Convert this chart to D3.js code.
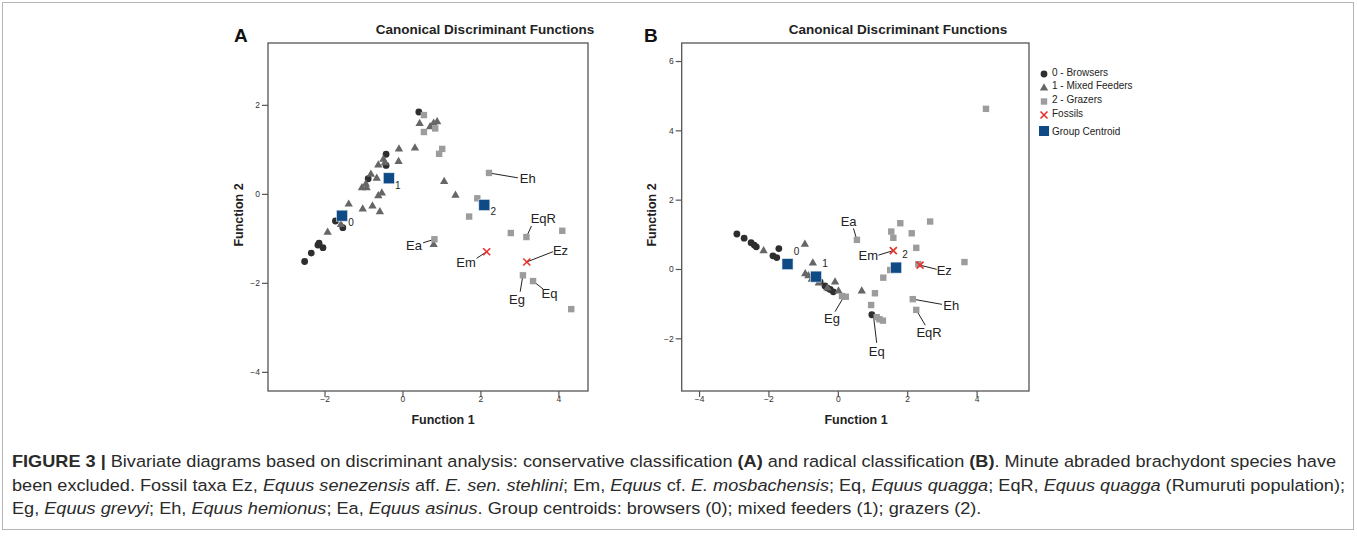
<!DOCTYPE html>
<html>
<head>
<meta charset="utf-8">
<script src="https://cdn.jsdelivr.net/npm/d3@7"></script>
<style>
  html, body { margin: 0; padding: 0; background: #fff; }
  svg { display: block; font-family: "Liberation Sans", Arial, sans-serif; }
</style>
</head>
<body>
<svg id="fig" width="1357" height="542"></svg>
<script>
// ---------------- DATA ----------------
const panelTitle = "Canonical Discriminant Functions";
const xAxisTitle = "Function 1";
const yAxisTitle = "Function 2";

// Panel A (conservative classification)
const aXTicks = [-2, 0, 2, 4];
const aYTicks = [-4, -2, 0, 2];
const aBrowsers = [[0.42,1.84],[-0.42,0.89],[-0.42,0.64],[-0.88,0.34],[-1.72,-0.61],[-1.53,-0.76],
  [-2.14,-1.11],[-2.17,-1.15],[-2.04,-1.21],[-2.34,-1.33],[-2.51,-1.52]];
const aMixed = [[0.44,1.60],[0.89,1.64],[0.71,1.53],[0.80,1.61],[-0.09,1.03],[0.32,1.05],[-0.49,0.80],
  [-0.62,0.67],[-0.10,0.75],[-0.45,0.72],[1.07,0.30],[-0.81,0.46],[-0.66,0.37],[-1.04,0.16],[-0.92,0.16],
  [-0.94,0.24],[-0.53,0.04],[-0.62,-0.02],[-1.38,-0.21],[-1.02,-0.32],[-0.77,-0.25],[-0.58,-0.38],
  [-1.58,-0.67],[-1.92,-0.84],[1.36,-0.01],[0.80,-1.12]];
const aGrazers = [[0.55,1.77],[0.84,1.47],[0.55,1.39],[1.02,1.01],[0.94,0.90],[2.22,0.47],[1.92,-0.10],
  [1.71,-0.51],[2.78,-0.88],[3.18,-0.97],[4.10,-0.83],[3.09,-1.83],[3.35,-1.96],[4.33,-2.59],[0.82,-1.02]];
const aFossils = [[2.16,-1.30],[3.19,-1.53]];
const aCentroids = [["0",-1.55,-0.49],["1",-0.35,0.35],["2",2.10,-0.25]];
// [text, point x, point y, label x, label y, anchor, line end x, line end y]
const aLabels = [
  ["Eh", 2.22, 0.47, 3.01, 0.25, "start", 2.96, 0.36],
  ["EqR", 3.18, -0.97, 3.29, -0.65, "start", 3.31, -0.72],
  ["Ea", 0.82, -1.02, 0.50, -1.26, "end", 0.53, -1.10],
  ["Em", 2.16, -1.30, 1.88, -1.64, "end", 1.90, -1.45],
  ["Ez", 3.19, -1.53, 3.86, -1.37, "start", 3.86, -1.30],
  ["Eg", 3.09, -1.83, 2.94, -2.47, "middle", 3.02, -2.20],
  ["Eq", 3.35, -1.96, 3.57, -2.34, "start", 3.61, -2.14]
];

// Panel B (radical classification)
const bXTicks = [-4, -2, 0, 2, 4];
const bYTicks = [-2, 0, 2, 4, 6];
const bBrowsers = [[-2.91,1.01],[-2.70,0.89],[-2.50,0.76],[-2.41,0.69],[-2.35,0.64],[-1.70,0.59],
  [-1.87,0.38],[-1.76,0.33],[-0.51,-0.37],[-0.37,-0.49],[-0.30,-0.55],[-0.22,-0.59],[-0.13,-0.66],[0.98,-1.32]];
const bMixed = [[-2.14,0.55],[-0.95,0.74],[-0.72,0.20],[-0.94,-0.11],[-0.85,-0.17],[-0.75,-0.27],
  [-0.55,-0.38],[-0.30,-0.52],[-0.08,-0.35],[0.02,-0.61],[0.69,-0.61]];
const bGrazers = [[0.55,0.84],[1.80,1.32],[2.66,1.37],[1.54,1.08],[1.60,0.90],[2.13,1.03],[2.26,0.61],
  [1.51,-0.03],[1.31,-0.25],[2.32,0.14],[3.65,0.20],[1.07,-0.70],[0.96,-1.04],[0.12,-0.78],[0.23,-0.80],
  [2.16,-0.87],[2.26,-1.18],[4.27,4.62],[1.12,-1.39],[1.20,-1.45],[1.30,-1.49]];
const bFossils = [[1.60,0.53],[2.37,0.11]];
const bCentroids = [["0",-1.45,0.14],["1",-0.63,-0.22],["2",1.68,0.04]];
const bLabels = [
  ["Ea", 0.55, 0.84, 0.31, 1.24, "middle", 0.45, 1.17],
  ["Em", 1.60, 0.53, 1.16, 0.26, "end", 1.17, 0.40],
  ["Ez", 2.37, 0.11, 2.85, -0.17, "start", 2.85, -0.01],
  ["Eh", 2.16, -0.87, 3.04, -1.18, "start", 3.00, -1.02],
  ["EqR", 2.26, -1.18, 2.63, -1.96, "middle", 2.52, -1.62],
  ["Eq", 1.03, -1.38, 1.12, -2.51, "middle", 1.12, -2.13],
  ["Eg", 0.18, -0.79, -0.17, -1.56, "middle", -0.08, -1.23]
];

const legendItems = ["0 - Browsers", "1 - Mixed Feeders", "2 - Grazers", "Fossils", "Group Centroid"];

// ---------------- STYLE ----------------
const C = { browser: "#2e2e2e", mixed: "#666666", grazer: "#9c9c9c", fossil: "#e8322d", centroid: "#0e4a86", axis: "#555", text: "#222" };

const svg = d3.select("#fig");

// outer frame
svg.append("rect").attr("x", 2.5).attr("y", 2.5).attr("width", 1351).attr("height", 527)
  .attr("fill", "none").attr("stroke", "#b5b5b5").attr("stroke-width", 1);

function symbolPath(type, size) { return d3.symbol().type(type).size(size)(); }

function drawPanel(cfg) {
  const x = d3.scaleLinear().domain(cfg.xDomain).range(cfg.xRange);
  const y = d3.scaleLinear().domain(cfg.yDomain).range(cfg.yRange);
  const g = svg.append("g");

  g.append("rect").attr("x", cfg.xRange[0]).attr("y", cfg.yRange[1])
    .attr("width", cfg.xRange[1] - cfg.xRange[0]).attr("height", cfg.yRange[0] - cfg.yRange[1])
    .attr("fill", "none").attr("stroke", C.axis).attr("stroke-width", 1.3);

  const xa = g.append("g").attr("transform", `translate(0,${cfg.yRange[0]})`)
    .call(d3.axisBottom(x).tickValues(cfg.xTicks).tickSize(6).tickPadding(-1).tickSizeOuter(0));
  const ya = g.append("g").attr("transform", `translate(${cfg.xRange[0]},0)`)
    .call(d3.axisLeft(y).tickValues(cfg.yTicks).tickSize(6).tickPadding(2).tickSizeOuter(0));
  [xa, ya].forEach(a => {
    a.select(".domain").remove();
    a.selectAll("line").attr("stroke", C.axis).attr("stroke-width", 1.2);
    a.selectAll("text").attr("font-size", 8.5).attr("fill", "#333").attr("font-family", "Liberation Sans, Arial, sans-serif");
  });

  g.append("text").attr("x", cfg.titleX).attr("y", 34).attr("text-anchor", "middle")
    .attr("font-size", 13.5).attr("font-weight", "bold").attr("fill", C.text).text(panelTitle);
  g.append("text").attr("x", cfg.letterX).attr("y", 42).attr("font-size", 19).attr("font-weight", "bold")
    .attr("fill", "#111").text(cfg.letter);
  g.append("text").attr("transform", `translate(${cfg.yTitleX},215) rotate(-90)`).attr("text-anchor", "middle")
    .attr("font-size", 12.5).attr("font-weight", "bold").attr("fill", C.text).text(yAxisTitle);
  g.append("text").attr("x", cfg.xTitleX).attr("y", 424).attr("text-anchor", "middle")
    .attr("font-size", 12.5).attr("font-weight", "bold").attr("fill", C.text).text(xAxisTitle);

  g.selectAll(".lead").data(cfg.labels).join("line")
    .attr("x1", d => x(d[1])).attr("y1", d => y(d[2]))
    .attr("x2", d => x(d[6])).attr("y2", d => y(d[7]))
    .attr("stroke", "#222").attr("stroke-width", 1);

  g.selectAll(".br").data(cfg.browsers).join("circle")
    .attr("cx", d => x(d[0])).attr("cy", d => y(d[1])).attr("r", 3.4).attr("fill", C.browser);
  g.selectAll(".mx").data(cfg.mixed).join("path")
    .attr("d", symbolPath(d3.symbolTriangle, 30))
    .attr("transform", d => `translate(${x(d[0])},${y(d[1]) + 1})`).attr("fill", C.mixed);
  g.selectAll(".gz").data(cfg.grazers).join("rect")
    .attr("x", d => x(d[0]) - 3.2).attr("y", d => y(d[1]) - 3.2).attr("width", 6.4).attr("height", 6.4)
    .attr("fill", C.grazer);
  const fs = g.selectAll(".fs").data(cfg.fossils).join("g")
    .attr("transform", d => `translate(${x(d[0])},${y(d[1])})`);
  fs.append("line").attr("x1", -3.5).attr("y1", -3.5).attr("x2", 3.5).attr("y2", 3.5);
  fs.append("line").attr("x1", -3.5).attr("y1", 3.5).attr("x2", 3.5).attr("y2", -3.5);
  fs.selectAll("line").attr("stroke", C.fossil).attr("stroke-width", 1.6);
  g.selectAll(".ct").data(cfg.centroids).join("rect")
    .attr("x", d => x(d[1]) - 5.5).attr("y", d => y(d[2]) - 5.5).attr("width", 11).attr("height", 11)
    .attr("fill", C.centroid).attr("stroke", "#dfe6ee").attr("stroke-width", 0.6);
  g.selectAll(".ctl").data(cfg.centroids).join("text")
    .attr("x", d => x(d[1]) + 9).attr("y", d => y(d[2]) + cfg.centroidDy)
    .attr("text-anchor", "middle").attr("font-size", 10).attr("fill", C.text).text(d => d[0]);

  g.selectAll(".lbl").data(cfg.labels).join("text")
    .attr("x", d => x(d[3])).attr("y", d => y(d[4])).attr("text-anchor", d => d[5])
    .attr("font-size", 13).attr("fill", C.text).text(d => d[0]);
}

drawPanel({
  xDomain: [-3.45, 4.76], xRange: [268, 588], yDomain: [-4.43, 3.39], yRange: [391, 43],
  xTicks: aXTicks, yTicks: aYTicks, browsers: aBrowsers, mixed: aMixed, grazers: aGrazers,
  fossils: aFossils, centroids: aCentroids, labels: aLabels, centroidDy: 10.5,
  titleX: 485, letter: "A", letterX: 234, yTitleX: 243, xTitleX: 443
});
drawPanel({
  xDomain: [-4.50, 5.51], xRange: [681.7, 1029], yDomain: [-3.52, 6.52], yRange: [391, 43],
  xTicks: bXTicks, yTicks: bYTicks, browsers: bBrowsers, mixed: bMixed, grazers: bGrazers,
  fossils: bFossils, centroids: bCentroids, labels: bLabels, centroidDy: -9.5,
  titleX: 898, letter: "B", letterX: 644, yTitleX: 656, xTitleX: 856
});

// legend
const lg = svg.append("g").attr("transform", "translate(1044,74)");
const rowY = [0, 13, 27.5, 41, 57];
legendItems.forEach((t, i) => {
  const row = lg.append("g").attr("transform", `translate(0,${rowY[i]})`);
  if (i === 0) row.append("circle").attr("r", 3.4).attr("fill", C.browser);
  if (i === 1) row.append("path").attr("d", symbolPath(d3.symbolTriangle, 30)).attr("transform", "translate(0,1)").attr("fill", C.mixed);
  if (i === 2) row.append("rect").attr("x", -3.2).attr("y", -3.2).attr("width", 6.4).attr("height", 6.4).attr("fill", C.grazer);
  if (i === 3) {
    row.append("line").attr("x1", -3.5).attr("y1", -3.5).attr("x2", 3.5).attr("y2", 3.5).attr("stroke", C.fossil).attr("stroke-width", 1.6);
    row.append("line").attr("x1", -3.5).attr("y1", 3.5).attr("x2", 3.5).attr("y2", -3.5).attr("stroke", C.fossil).attr("stroke-width", 1.6);
  }
  if (i === 4) row.append("rect").attr("x", -5).attr("y", -5).attr("width", 10).attr("height", 10).attr("fill", C.centroid);
  row.append("text").attr("x", 8).attr("y", i === 4 ? 0 : -2).attr("dy", "0.35em")
    .attr("font-size", 10).attr("fill", C.text).text(t);
});

// caption
const capOuter = svg.append("g");
const cap = capOuter.append("g").attr("font-size", 16.5).attr("fill", "#2a2a2a");
const capLines = [
  [["FIGURE 3 |", "b"], [" Bivariate diagrams based on discriminant analysis: conservative classification ", ""], ["(A)", "b"],
   [" and radical classification ", ""], ["(B)", "b"], [". Minute abraded brachydont species have", ""]],
  [["been excluded. Fossil taxa Ez, ", ""], ["Equus senezensis", "i"], [" aff. ", ""], ["E. sen. stehlini", "i"],
   ["; Em, ", ""], ["Equus", "i"], [" cf. ", ""], ["E. mosbachensis", "i"], ["; Eq, ", ""], ["Equus quagga", "i"],
   ["; EqR, ", ""], ["Equus quagga", "i"], [" (Rumuruti population);", ""]],
  [["Eg, ", ""], ["Equus grevyi", "i"], ["; Eh, ", ""], ["Equus hemionus", "i"], ["; Ea, ", ""], ["Equus asinus", "i"],
   [". Group centroids: browsers (0); mixed feeders (1); grazers (2).", ""]]
];
const capY = [467, 491, 514];
const capTexts = capLines.map((parts, li) => {
  const t = cap.append("text").attr("x", 0).attr("y", capY[li]);
  parts.forEach(p => {
    const ts = t.append("tspan").text(p[0]);
    if (p[1] === "b") ts.attr("font-weight", "bold");
    if (p[1] === "i") ts.attr("font-style", "italic");
  });
  return t;
});
// condensed look: squeeze caption horizontally so the first line fills the caption width
const w1 = capTexts[0].node().getComputedTextLength();
const sx = w1 > 0 ? 1325 / w1 : 1;
cap.attr("transform", `translate(12,0) scale(${sx},1)`);
</script>
</body>
</html>
